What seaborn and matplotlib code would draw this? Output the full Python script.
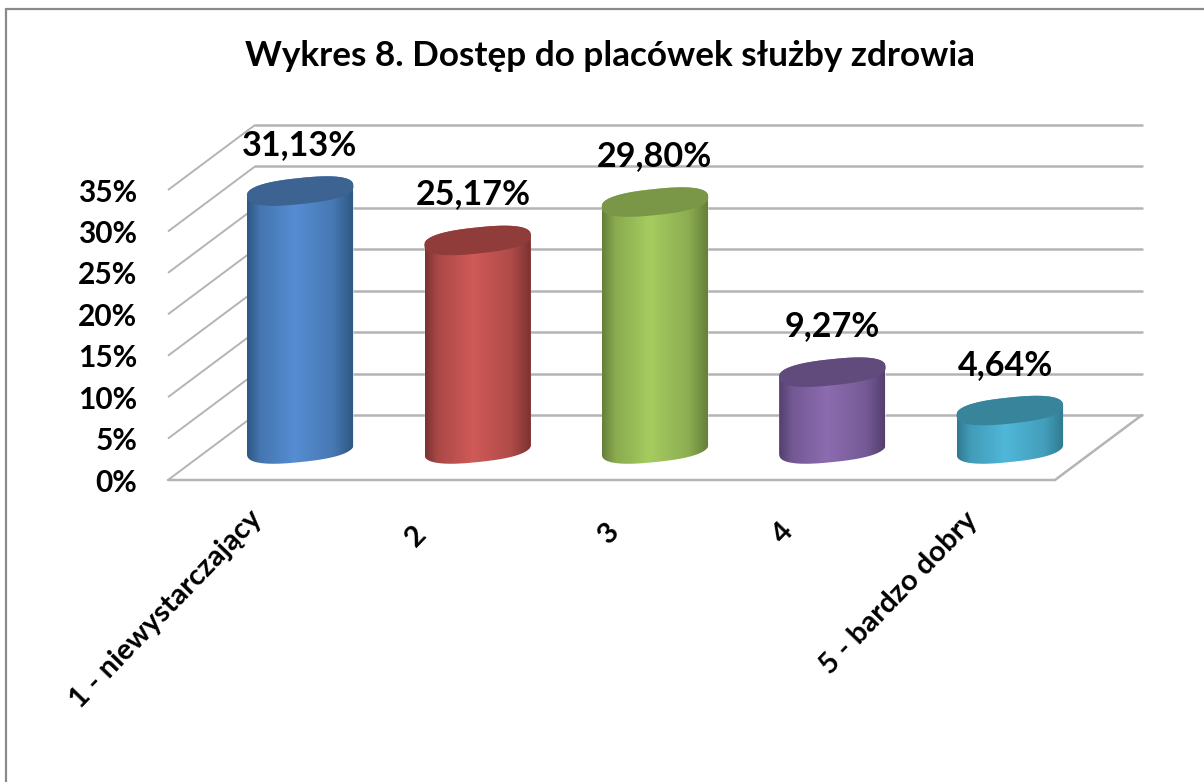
# -*- coding: utf-8 -*-
"""
Wykres 8 - cylinder style column chart, built on seaborn bars
"""
import numpy as np
import seaborn as sns
import matplotlib
matplotlib.use('Agg')
import matplotlib.pyplot as plt
from matplotlib.colors import LinearSegmentedColormap, to_rgb
from matplotlib.lines import Line2D
from matplotlib.patches import Polygon
from matplotlib.transforms import Affine2D

categories = ['1 - niewystarczający', '2', '3', '4', '5 - bardzo dobry']
values = [31.13, 25.17, 29.80, 9.27, 4.64]
value_labels = ['31,13%', '25,17%', '29,80%', '9,27%', '4,64%']
y_ticks = [0, 5, 10, 15, 20, 25, 30, 35]
y_tick_labels = ['0%', '5%', '10%', '15%', '20%', '25%', '30%', '35%']
title = 'Wykres 8. Dostęp do placówek służby zdrowia'

# colours for each cylinder
light_colors = ['#568dd3', '#d05a58', '#a6cc60', '#8c6cb0', '#50b7d8']
dark_colors = ['#2f5883', '#7c3331', '#66803a', '#54406f', '#2f7a90']
cap_colors = ['#3c6391', '#8f3c3a', '#7a9748', '#604b7c', '#38859b']
label_shift = [-1, -4, -1, 0, -4]  # px
xlabel_shift = [(-8, -6), (-22, -22), (-6, -19), (-9, -19), (-2, -8)]  # px, y up

sns.set_theme(style='white')
plt.rcParams['font.family'] = ['Lato', 'DejaVu Sans']
plt.rcParams['font.weight'] = 'bold'

W, H = 1204, 782
fig = plt.figure(figsize=(W / 100, H / 100), dpi=100)


def make_axes(left, right, top, bottom):
    # axes from image pixel box
    a = fig.add_axes([left / W, 1 - bottom / H, (right - left) / W, (bottom - top) / H])
    a.set_xlim(-0.5, 4.5)
    a.set_ylim(0, 35)
    a.patch.set_alpha(0)
    sns.despine(ax=a, left=True, bottom=True)
    return a


def mix(c1, c2, f):
    return tuple(np.array(to_rgb(c1)) * f + np.array(to_rgb(c2)) * (1 - f))


# three planes: back wall, front edge and the middle where cylinders stand
ax_back = make_axes(255, 1142, 125, 415)
ax_front = make_axes(168, 1055, 190, 480)
ax = make_axes(211.5, 1098.5, 190, 449)
ax.set_ylim(0, 259 / (290 / 35))

grid_color = '#b4b4b4'
ax_back.set_yticks(y_ticks)
ax_back.set_yticklabels([])
ax_back.set_xticks([])
ax_back.grid(axis='y', color=grid_color, linewidth=1.8, clip_on=False)
ax_back.tick_params(left=False)
ax_back.set_axisbelow(True)

ax_front.set_yticks(y_ticks)
ax_front.set_yticklabels(y_tick_labels, fontsize=21.5, fontweight='bold', color='black')
ax_front.set_xticks(range(len(categories)))
ax_front.set_xticklabels(categories, fontsize=21, fontweight='bold', color='black',
                         rotation=46, ha='right', rotation_mode='anchor')
ax_front.tick_params(axis='y', length=0, pad=22)
ax_front.tick_params(axis='x', length=0, pad=14)
for lab, shift in zip(ax_front.get_xticklabels(), xlabel_shift):
    lab.set_transform(lab.get_transform() + Affine2D().translate(*shift))

# diagonals going from front to back wall, and the floor
depth_x = 87 / (887 / 5)
depth_y = 65 / (290 / 35)
for v in y_ticks:
    ax_front.plot([-0.5, -0.5 + depth_x], [v, v + depth_y], color=grid_color, lw=1.4,
                  clip_on=False, solid_capstyle='butt')
ax_front.plot([-0.5, 4.5, 4.5 + depth_x], [0, 0, depth_y], color=grid_color, lw=1.8,
              clip_on=False, solid_joinstyle='miter')

sns.barplot(x=categories, y=values, hue=categories, palette=light_colors, width=106 / (887 / 5),
            saturation=1, legend=False, ax=ax)
ax.set_xlabel('')
ax.set_ylabel('')
ax.set_xticks([])
ax.set_yticks([])
ax.set_xlim(-0.5, 4.5)
ax.set_ylim(0, 259 / (290 / 35))

RX, RY, TILT, ROUND = 53.5, 13, np.deg2rad(6), 2.5


def ellipse_px(cx, cy):
    # slightly squarish tilted ellipse, points start at the right tip going counter clockwise
    t = np.linspace(0, 2 * np.pi, 240, endpoint=False)
    a = RX * np.sign(np.cos(t)) * np.abs(np.cos(t)) ** (2 / ROUND)
    b = RY * np.sign(np.sin(t)) * np.abs(np.sin(t)) ** (2 / ROUND)
    x = a * np.cos(TILT) - b * np.sin(TILT)
    y = a * np.sin(TILT) + b * np.cos(TILT)
    pts = np.column_stack([cx + x, cy + y])
    return np.roll(pts, -np.argmax(x), axis=0)


bars = sorted([p for p in ax.patches if p.get_height() > 0], key=lambda p: p.get_x())
to_px = ax.transData
to_data = ax.transData.inverted()

for i, bar in enumerate(bars):
    x0 = bar.get_x()
    w = bar.get_width()
    h = bar.get_height()
    cx, base_y = to_px.transform((x0 + w / 2, 0))
    _, top_y = to_px.transform((x0 + w / 2, h))

    # outline of the body: lower half of base ellipse, upper half of top ellipse
    cap = ellipse_px(cx, top_y)
    base = ellipse_px(cx, base_y)
    tip = np.argmin(cap[:, 0])
    outline = np.vstack([base[tip:], base[:1], cap[:tip + 1]])
    body = Polygon(to_data.transform(outline), closed=True,
                   transform=ax.transData, fc='none', ec='none', clip_on=False)
    ax.add_patch(body)
    bar.set_clip_box(fig.bbox)
    bar.set_clip_path(body)

    cmap = LinearSegmentedColormap.from_list('cyl', [(0, dark_colors[i]),
                                                     (0.12, mix(light_colors[i], dark_colors[i], 0.55)),
                                                     (0.45, light_colors[i]),
                                                     (0.82, mix(light_colors[i], dark_colors[i], 0.6)),
                                                     (1, dark_colors[i])])
    grad = np.linspace(0, 1, 128).reshape(1, -1)
    extra = 20 / (290 / 35)
    im = ax.imshow(grad, cmap=cmap, aspect='auto', interpolation='bilinear',
                   extent=[x0, x0 + w, -extra, h + extra], zorder=3)
    im.set_clip_box(fig.bbox)
    im.set_clip_path(body)

    ax.add_patch(Polygon(to_data.transform(cap), closed=True, fc=cap_colors[i], ec='none',
                         zorder=4, clip_on=False))

    ax.annotate(value_labels[i], xy=(x0 + w / 2, h), xytext=(label_shift[i] * 0.72, 46 * 0.72),
                textcoords='offset points', ha='center', va='center', fontsize=24.6,
                fontweight='bold', color='black', zorder=5, annotation_clip=False)

ax.set_xlim(-0.5, 4.5)
ax.set_ylim(0, 259 / (290 / 35))

fig.text(610 / W, 1 - 56 / H, title, ha='center', va='center', fontsize=25.3,
         fontweight='bold', color='black')

# chart frame, only top and left fit in the crop
fig.add_artist(Line2D([6 / W, 6 / W], [0, 1 - 9 / H], color='#8a8a8a', lw=1.6))
fig.add_artist(Line2D([6 / W, 1], [1 - 9 / H, 1 - 9 / H], color='#8a8a8a', lw=1.6))

fig.savefig('out.png', dpi=100)
